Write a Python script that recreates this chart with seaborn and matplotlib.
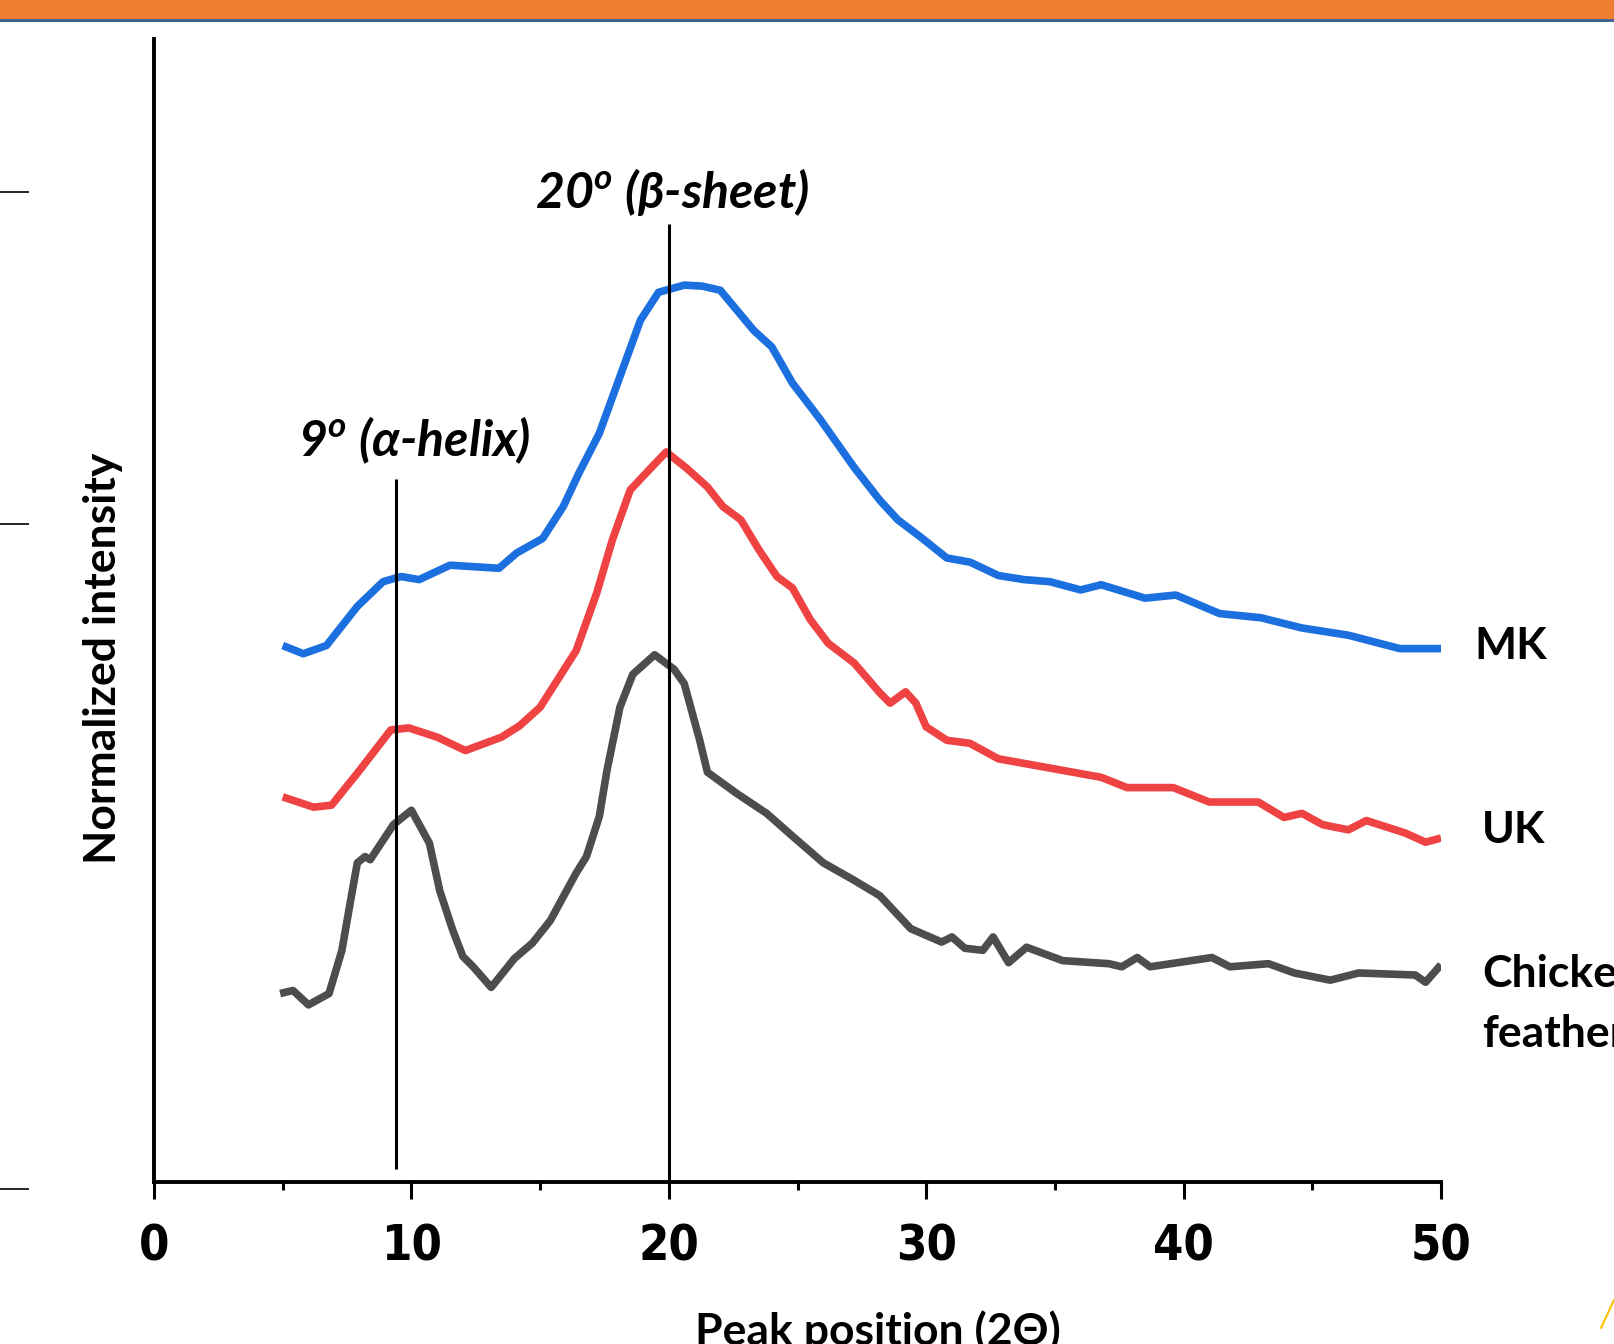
import numpy as np
import pandas as pd
import matplotlib
matplotlib.use('Agg')
import matplotlib.pyplot as plt
from matplotlib import font_manager
from matplotlib.font_manager import FontProperties
from matplotlib.patches import Rectangle
from matplotlib.lines import Line2D
import seaborn as sns

# DATA (intensity in arbitrary units)
mk_x = [5.0, 5.8, 6.7, 7.9, 8.9, 9.6, 10.3, 11.5, 13.4, 14.1, 15.1, 15.9, 16.5, 17.3,
        18.1, 18.9, 19.6, 20.6, 21.3, 22.0, 23.3, 24.0, 24.8, 25.9, 27.2, 28.2, 28.9,
        29.8, 30.8, 31.7, 32.8, 33.8, 34.8, 36.0, 36.8, 38.5, 39.7, 41.4, 43.0, 44.6,
        46.4, 48.4, 50.0]
mk_y = [52.1, 51.3, 52.1, 55.9, 58.3, 58.8, 58.5, 59.9, 59.6, 61.1, 62.5, 65.6, 68.8, 72.7,
        78.2, 83.7, 86.4, 87.1, 87.0, 86.6, 82.7, 81.1, 77.6, 74.0, 69.4, 66.2, 64.3,
        62.6, 60.6, 60.2, 58.9, 58.5, 58.3, 57.5, 58.0, 56.7, 57.0, 55.2, 54.8, 53.8,
        53.1, 51.8, 51.8]

uk_x = [5.0, 6.2, 6.9, 7.9, 9.2, 9.9, 11.0, 12.1, 13.5, 14.2, 15.0, 16.4, 17.2, 17.8,
        18.5, 19.1, 19.9, 20.7, 21.5, 22.1, 22.8, 23.5, 24.2, 24.8, 25.5, 26.2, 27.2,
        28.2, 28.6, 29.2, 29.6, 30.0, 30.8, 31.7, 32.8, 34.8, 36.8, 37.8, 39.6, 41.0,
        42.9, 43.9, 44.6, 45.4, 46.4, 47.1, 48.6, 49.4, 50.0]
uk_y = [37.4, 36.4, 36.6, 39.7, 43.9, 44.1, 43.2, 41.9, 43.2, 44.3, 46.1, 51.6, 57.2, 62.3,
        67.2, 68.8, 70.9, 69.3, 67.5, 65.6, 64.3, 61.4, 58.8, 57.7, 54.6, 52.3, 50.4,
        47.5, 46.5, 47.6, 46.5, 44.2, 42.9, 42.6, 41.1, 40.2, 39.3, 38.3, 38.3, 36.9,
        36.9, 35.4, 35.8, 34.7, 34.2, 35.1, 33.9, 33.0, 33.4]

cf_x = [4.9, 5.4, 6.0, 6.8, 7.3, 7.6, 7.9, 8.2, 8.4, 9.3, 10.0, 10.7, 11.1, 11.6, 12.0,
        12.4, 13.1, 14.0, 14.7, 15.4, 16.4, 16.8, 17.3, 17.6, 18.1, 18.6, 19.45, 20.2,
        20.6, 21.2, 21.5, 22.6, 23.8, 24.8, 26.0, 27.2, 28.2, 29.4, 30.6, 31.0, 31.5,
        32.2, 32.6, 33.2, 33.9, 35.3, 37.1, 37.6, 38.2, 38.7, 41.1, 41.8, 43.3, 44.3,
        45.7, 46.8, 49.0, 49.4, 50.0]
cf_y = [18.3, 18.6, 17.2, 18.3, 22.5, 26.8, 31.0, 31.6, 31.3, 34.7, 36.1, 32.9, 28.3, 24.5, 21.9,
        20.9, 18.9, 21.7, 23.2, 25.4, 30.0, 31.6, 35.5, 40.0, 46.1, 49.3, 51.2, 49.8,
        48.4, 42.9, 39.8, 37.8, 35.8, 33.6, 31.0, 29.3, 27.8, 24.6, 23.3, 23.8, 22.7,
        22.5, 23.8, 21.3, 22.8, 21.5, 21.2, 20.9, 21.8, 20.9, 21.8, 20.9, 21.2, 20.3,
        19.6, 20.3, 20.1, 19.4, 21.1]

samples = ['MK', 'UK', 'Chicken\nfeather']
sample_colors = ['#1b6fdf', '#ef4242', '#4d4d4d']
label_x = [51.3, 51.6, 51.6]
label_y = [52.1, 34.2, 17.3]

# reference peak positions and the extent of their marker lines
peak_pos = [9.4, 20.0]
peak_top = [68.3, 93.0]
peak_bottom = [1.3, 0.0]
peak_text = ['9$^{o}$ (α-helix)', '20$^{o}$ (β-sheet)']
peak_text_xy = [(5.6, 72.0), (14.8, 96.1)]

df = pd.concat([
    pd.DataFrame({'two_theta': mk_x, 'intensity': mk_y, 'sample': samples[0]}),
    pd.DataFrame({'two_theta': uk_x, 'intensity': uk_y, 'sample': samples[1]}),
    pd.DataFrame({'two_theta': cf_x, 'intensity': cf_y, 'sample': samples[2]}),
], ignore_index=True)

sns.set_style('white')
plt.rcParams['font.family'] = ['Lato', 'DejaVu Sans']
plt.rcParams['text.color'] = 'black'
plt.rcParams['axes.labelcolor'] = 'black'
plt.rcParams['xtick.color'] = 'black'
plt.rcParams['mathtext.fontset'] = 'custom'
plt.rcParams['mathtext.it'] = 'Lato:italic:bold'
plt.rcParams['mathtext.rm'] = 'Lato:bold'


# narrow bold font for the tick numbers (Arial Narrow look-alike if there is one)
def narrow_bold():
    fonts = font_manager.fontManager.ttflist
    for key in ['LiberationSansNarrow-Bold', 'DejaVuSansCondensed-Bold', 'RobotoCondensed-Bold',
                'NotoSans-CondensedBold', 'Roboto_Condensed-Bold']:
        for f in fonts:
            if key.lower() in f.fname.lower().replace(' ', ''):
                return FontProperties(fname=f.fname, size=35)
    return FontProperties(family='Liberation Sans', weight='bold', size=33)


tick_font = narrow_bold()

W, H = 1614, 1344
fig = plt.figure(figsize=(W / 100, H / 100), dpi=100)

# slide decoration: orange header bar with thin blue rule
fig.add_artist(Rectangle((0, 1 - 19 / H), 1, 19 / H, transform=fig.transFigure,
                         facecolor='#ed7d31', edgecolor='none'))
fig.add_artist(Rectangle((0, 1 - 22 / H), 1, 3 / H, transform=fig.transFigure,
                         facecolor='#44618f', edgecolor='none'))
fig.add_artist(Line2D([1601 / W, 1614 / W], [16 / H, 44 / H], transform=fig.transFigure,
                      color='#ffc000', lw=1.5))

# stray tick marks on the far left (leftover from the source slide)
side = fig.add_axes([0, (H - 1189) / H, 0.02, (1189 - 192) / H])
side.set_ylim(0, 3)
side.set_xlim(0, 1)
for s in side.spines.values():
    s.set_visible(False)
side.set_xticks([])
side.set_yticks([0, 2, 3])
side.set_yticklabels([])
side.tick_params(axis='y', direction='in', length=21, width=1.2, color='black', left=True)
side.patch.set_alpha(0)

ax = fig.add_axes([154 / W, (H - 1182) / H, (1441 - 154) / W, (1182 - 39) / H])
sns.lineplot(data=df, x='two_theta', y='intensity', hue='sample', hue_order=samples,
             palette=sample_colors, linewidth=5.5, legend=False, sort=False, ax=ax)
for ln in ax.get_lines():
    ln.set_solid_joinstyle('round')
    ln.set_solid_capstyle('butt')

ax.vlines(peak_pos, peak_bottom, peak_top, colors='black', linewidth=2.2)
for txt, (tx, ty) in zip(peak_text, peak_text_xy):
    ax.text(tx, ty, txt, fontsize=36, fontweight='bold', fontstyle='italic',
            ha='left', va='center')

for name, lx, ly in zip(samples, label_x, label_y):
    ax.text(lx, ly, name, fontsize=32, fontweight='bold',
            ha='left', va='center', linespacing=1.6, clip_on=False)

ax.set_xlim(0, 50)
ax.set_ylim(0, 111)
sns.despine(ax=ax)
for s in ['left', 'bottom']:
    ax.spines[s].set_linewidth(2.8)
    ax.spines[s].set_color('black')
ax.set_xticks([0, 10, 20, 30, 40, 50])
ax.set_xticks([5, 15, 25, 35, 45], minor=True)
ax.set_yticks([])
ax.tick_params(axis='x', which='major', direction='out', length=12.5, width=2.2,
               color='black', bottom=True, pad=17)
ax.tick_params(axis='x', which='minor', direction='out', length=6, width=2.2,
               color='black', bottom=True)
for lab in ax.get_xticklabels():
    lab.set_fontproperties(tick_font)
    lab.set_color('black')

ax.set_xlabel('Peak position (2Θ)', fontsize=32, fontweight='bold')
ax.xaxis.set_label_coords(0.5625, -0.112)
ax.set_ylabel('Normalized intensity', fontsize=32, fontweight='bold')
ax.yaxis.set_label_coords(-0.024, 0.4586)

fig.savefig('out.png', dpi=100)
